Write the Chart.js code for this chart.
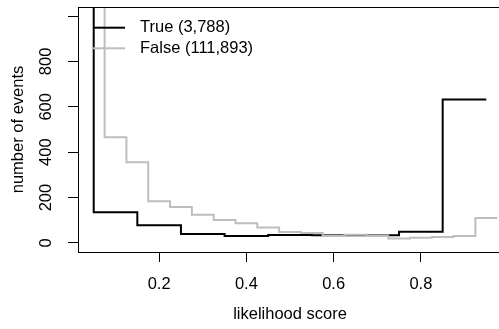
<!DOCTYPE html>
<html>
<head>
<meta charset="utf-8">
<script src="https://cdn.jsdelivr.net/npm/chart.js@4/dist/chart.umd.min.js"></script>
<style>
  html, body { margin: 0; padding: 0; overflow: hidden; background: #fff; }
  canvas { display: block; }
</style>
</head>
<body>
<canvas id="chart" width="505" height="329"></canvas>
<script>
// bin mid points of the two histograms (drawn as R type "S" steps)
var trueMids = [0.05, 0.15, 0.25, 0.35, 0.45, 0.55, 0.65, 0.75, 0.85, 0.95];
var trueCounts = [2719, 135, 78, 39, 31, 35, 34, 34, 49, 632];

var falseMids = [0.025, 0.075, 0.125, 0.175, 0.225, 0.275, 0.325, 0.375, 0.425, 0.475,
                 0.525, 0.575, 0.625, 0.675, 0.725, 0.775, 0.825, 0.875, 0.925, 0.975];
var falseCounts = [98000, 11947, 466, 356, 184, 158, 124, 101, 87, 68,
                   48, 44, 32, 36, 33, 19, 23, 26, 31, 110];

var seriesLabels = ['True (3,788)', 'False (111,893)'];

var xTicks = [0.2, 0.4, 0.6, 0.8];
var yTicks = [0, 200, 400, 600, 800, 1000];
var yTickLabels = ['0', '200', '400', '600', '800', ''];

var FONT = '"Liberation Sans", Arial, Helvetica, sans-serif';
var FONT_SIZE = 16.5;

Chart.defaults.font.family = FONT;
Chart.defaults.font.size = FONT_SIZE;
Chart.defaults.color = '#000';

function toPoints(xs, ys){
  var pts = [];
  for(var i=0; i<xs.length; i++) pts.push({x: xs[i], y: ys[i]});
  return pts;
}

// box, rotated y labels and legend, R base graphics style
var rFrame = {
  id: 'rFrame',
  afterDraw: function(chart){
    var ctx = chart.ctx, a = chart.chartArea, y = chart.scales.y;
    ctx.save();
    ctx.strokeStyle = '#000';
    ctx.lineWidth = 1;
    ctx.strokeRect(Math.round(a.left) + 0.5, Math.round(a.top) + 0.5,
                   a.right - a.left, a.bottom - a.top);

    ctx.font = FONT_SIZE + 'px ' + FONT;
    ctx.fillStyle = '#000';
    ctx.textAlign = 'center';
    ctx.textBaseline = 'middle';
    y.ticks.forEach(function(t, i){
      var label = yTickLabels[i];
      if (!label) return;
      ctx.save();
      ctx.translate(a.left - 31.5, y.getPixelForValue(t.value));
      ctx.rotate(-Math.PI / 2);
      ctx.fillText(label, 0, 0);
      ctx.restore();
    });

    // legend, top left inside the box
    ctx.textAlign = 'left';
    chart.data.datasets.forEach(function(ds, i){
      var ly = a.top + 20.7 + i * 20.6;
      ctx.strokeStyle = ds.borderColor;
      ctx.lineWidth = 2;
      ctx.beginPath();
      ctx.moveTo(a.left + 15, ly);
      ctx.lineTo(a.left + 47, ly);
      ctx.stroke();
      ctx.fillText(ds.label, a.left + 62, ly);
    });
    ctx.restore();
  }
};

var ctx = document.getElementById('chart').getContext('2d');
var chart = new Chart(ctx, {
  type: 'line',
  data: {
    datasets: [
      {
        label: seriesLabels[0],
        data: toPoints(trueMids, trueCounts),
        borderColor: '#000000',
        borderWidth: 2,
        stepped: 'after',
        pointRadius: 0,
        fill: false,
        clip: 0,
        order: 1
      },
      {
        label: seriesLabels[1],
        data: toPoints(falseMids, falseCounts),
        borderColor: '#bebebe',
        borderWidth: 2,
        stepped: 'after',
        pointRadius: 0,
        fill: false,
        clip: 0,
        order: 0
      }
    ]
  },
  options: {
    responsive: false,
    animation: false,
    layout: { padding: { top: 7, right: 3, left: 0, bottom: 0 } },
    plugins: {
      legend: { display: false },
      tooltip: { enabled: false }
    },
    scales: {
      x: {
        type: 'linear',
        min: 0.014,
        max: 0.986,
        afterBuildTicks: function(scale){
          scale.ticks = xTicks.map(function(v){ return {value: v}; });
        },
        afterFit: function(scale){ scale.height = 77; },
        ticks: {
          padding: 12.5,
          maxRotation: 0,
          color: '#000',
          callback: function(v){ return v.toFixed(1); }
        },
        grid: { drawOnChartArea: false, tickLength: 10, color: '#000', lineWidth: 1 },
        border: { display: false },
        title: {
          display: true,
          text: 'likelihood score',
          color: '#000',
          padding: { top: 0, bottom: 4.5 }
        }
      },
      y: {
        type: 'linear',
        min: -40,
        max: 1040,
        afterBuildTicks: function(scale){
          scale.ticks = yTicks.map(function(v){ return {value: v}; });
        },
        afterFit: function(scale){ scale.width = 78; },
        ticks: { display: false },
        grid: { drawOnChartArea: false, tickLength: 10, color: '#000', lineWidth: 1 },
        border: { display: false },
        title: {
          display: true,
          text: 'number of events',
          color: '#000',
          padding: { top: 8.4, bottom: 0 }
        }
      }
    }
  },
  plugins: [rFrame]
});
</script>
</body>
</html>
